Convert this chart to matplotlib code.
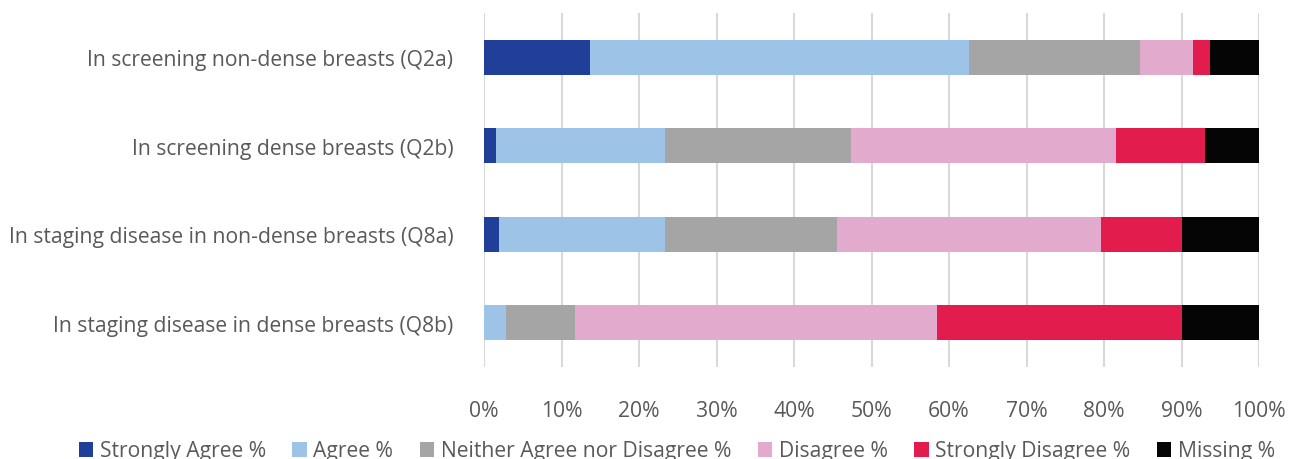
import matplotlib.pyplot as plt
import numpy as np

questions = [
    "In screening non-dense breasts (Q2a)",
    "In screening dense breasts (Q2b)",
    "In staging disease in non-dense breasts (Q8a)",
    "In staging disease in dense breasts (Q8b)",
]
responses = ["Strongly Agree %", "Agree %", "Neither Agree nor Disagree %",
             "Disagree %", "Strongly Disagree %", "Missing %"]

strongly_agree = [13.7, 1.55, 1.9, 0.0]
agree = [48.9, 21.75, 21.4, 2.9]
neither = [22.0, 24.1, 22.3, 8.8]
disagree = [6.9, 34.1, 34.0, 46.8]
strongly_disagree = [2.2, 11.5, 10.4, 31.5]
missing = [6.3, 7.0, 10.0, 10.0]

colors = ["#1F3F99", "#9DC3E6", "#A5A5A5", "#E2AACD", "#E31C4E", "#050505"]

plt.rcParams['font.family'] = ['Open Sans', 'DejaVu Sans']

fig = plt.figure(figsize=(12.89, 4.6), dpi=100)
ax = fig.add_axes([484 / 1289, 1 - 368 / 460, 775 / 1289, 354 / 460])

series = [strongly_agree, agree, neither, disagree, strongly_disagree, missing]
y = np.arange(len(questions))
left = np.zeros(len(questions))
for name, vals, c in zip(responses, series, colors):
    vals = np.array(vals)
    ax.barh(y, vals, left=left, height=0.4, color=c, label=name, zorder=3)
    left += vals

ax.set_xlim(0, 100)
ax.set_ylim(len(questions) - 0.5, -0.5)
ax.set_yticks(y)
ax.set_yticklabels(questions)
ax.set_xticks(np.arange(0, 101, 10))
ax.set_xticklabels([f"{v}%" for v in range(0, 101, 10)])
ax.tick_params(axis='both', length=0, labelsize=15.2, labelcolor="#595959")
ax.tick_params(axis='y', pad=22)
ax.tick_params(axis='x', pad=24)
ax.grid(axis='x', color="#D9D9D9", linewidth=1.5, zorder=0)
for s in ax.spines.values():
    s.set_visible(False)

fig.legend(loc='center', bbox_to_anchor=(0.525, 1 - 452 / 460), ncol=6, frameon=False,
           fontsize=15.2, handlelength=0.7, handleheight=0.7, handletextpad=0.3,
           columnspacing=1.25, labelcolor="#595959")

fig.savefig("out.png", dpi=100)
